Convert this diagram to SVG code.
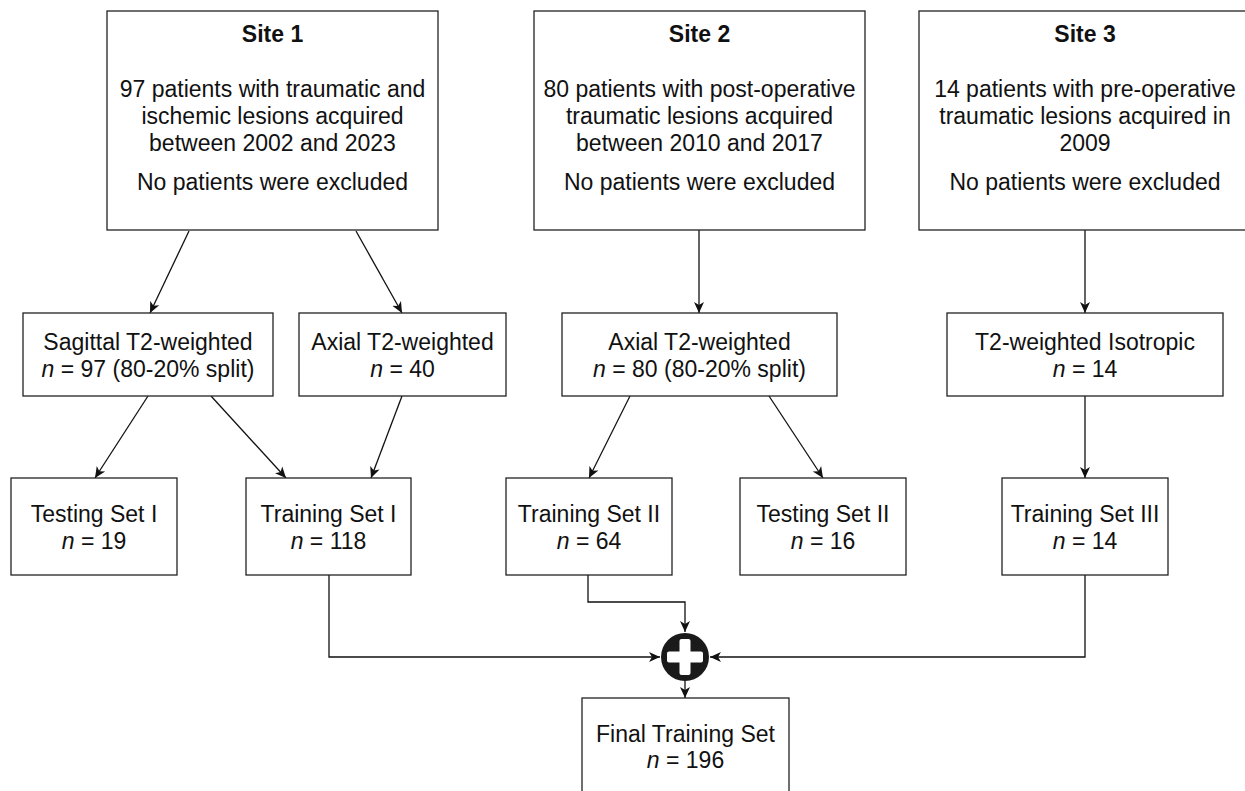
<svg xmlns="http://www.w3.org/2000/svg" width="1245" height="791" viewBox="0 0 1245 791">
<style>
.box{fill:#fff;stroke:#222;stroke-width:1.3}
text{font-family:"Liberation Sans",Arial,Helvetica,sans-serif;font-size:23px;fill:#111;text-anchor:middle}
.b{font-weight:bold}
.i{font-style:italic}
.c{fill:none;stroke:#111;stroke-width:1.3}
</style>
<defs>
<marker id="arr" markerUnits="userSpaceOnUse" markerWidth="12" markerHeight="12" refX="11" refY="6" orient="auto">
<path d="M0,1 L11,6 L0,11 L3,6 z" fill="#111"/>
</marker>
</defs>
<rect width="1245" height="791" fill="#fff"/>
<g id="connectors">
<line class="c" x1="189" y1="231" x2="150" y2="313" marker-end="url(#arr)"/>
<line class="c" x1="356" y1="231" x2="402" y2="313" marker-end="url(#arr)"/>
<line class="c" x1="699" y1="230" x2="699" y2="313" marker-end="url(#arr)"/>
<line class="c" x1="1085" y1="230" x2="1085" y2="313" marker-end="url(#arr)"/>
<line class="c" x1="148" y1="396" x2="95" y2="478" marker-end="url(#arr)"/>
<line class="c" x1="211" y1="396" x2="286" y2="478" marker-end="url(#arr)"/>
<line class="c" x1="402" y1="396" x2="371" y2="478" marker-end="url(#arr)"/>
<line class="c" x1="630" y1="396" x2="589" y2="478" marker-end="url(#arr)"/>
<line class="c" x1="769" y1="396" x2="823" y2="478" marker-end="url(#arr)"/>
<line class="c" x1="1085" y1="396" x2="1085" y2="478" marker-end="url(#arr)"/>
<path class="c" d="M329,575 V657 H660" marker-end="url(#arr)"/>
<path class="c" d="M588,575 V602 H685 V632" marker-end="url(#arr)"/>
<path class="c" d="M1085,575 V657 H710" marker-end="url(#arr)"/>
<line class="c" x1="685" y1="681" x2="685" y2="698" marker-end="url(#arr)"/>
</g>
<g id="site1">
<rect class="box" x="107" y="11" width="331" height="219"/>
<text class="b" x="272.5" y="42">Site 1</text>
<text x="272.5" y="97">97 patients with traumatic and</text>
<text x="272.5" y="124">ischemic lesions acquired</text>
<text x="272.5" y="151">between 2002 and 2023</text>
<text x="272.5" y="190">No patients were excluded</text>
</g>
<g id="site2">
<rect class="box" x="534" y="11" width="331" height="219"/>
<text class="b" x="699.5" y="42">Site 2</text>
<text x="699.5" y="97">80 patients with post-operative</text>
<text x="699.5" y="124">traumatic lesions acquired</text>
<text x="699.5" y="151">between 2010 and 2017</text>
<text x="699.5" y="190">No patients were excluded</text>
</g>
<g id="site3">
<rect class="box" x="919" y="11" width="332" height="219"/>
<text class="b" x="1085" y="42">Site 3</text>
<text x="1085" y="97">14 patients with pre-operative</text>
<text x="1085" y="124">traumatic lesions acquired in</text>
<text x="1085" y="151">2009</text>
<text x="1085" y="190">No patients were excluded</text>
</g>
<g id="sagittal">
<rect class="box" x="23" y="313" width="250" height="83"/>
<text x="148" y="350">Sagittal T2-weighted</text>
<text x="148" y="377"><tspan class="i">n</tspan> = 97 (80-20% split)</text>
</g>
<g id="axial1">
<rect class="box" x="299" y="313" width="207" height="83"/>
<text x="402.5" y="350">Axial T2-weighted</text>
<text x="402.5" y="377"><tspan class="i">n</tspan> = 40</text>
</g>
<g id="axial2">
<rect class="box" x="562" y="313" width="275" height="83"/>
<text x="699.5" y="350">Axial T2-weighted</text>
<text x="699.5" y="377"><tspan class="i">n</tspan> = 80 (80-20% split)</text>
</g>
<g id="isotropic">
<rect class="box" x="947" y="313" width="276" height="83"/>
<text x="1085" y="350">T2-weighted Isotropic</text>
<text x="1085" y="377"><tspan class="i">n</tspan> = 14</text>
</g>
<g id="testing1">
<rect class="box" x="11" y="478" width="166" height="97"/>
<text x="94" y="522">Testing Set I</text>
<text x="94" y="549"><tspan class="i">n</tspan> = 19</text>
</g>
<g id="training1">
<rect class="box" x="246" y="478" width="165" height="97"/>
<text x="328.5" y="522">Training Set I</text>
<text x="328.5" y="549"><tspan class="i">n</tspan> = 118</text>
</g>
<g id="training2">
<rect class="box" x="506" y="478" width="166" height="97"/>
<text x="589" y="522">Training Set II</text>
<text x="589" y="549"><tspan class="i">n</tspan> = 64</text>
</g>
<g id="testing2">
<rect class="box" x="740" y="478" width="166" height="97"/>
<text x="823" y="522">Testing Set II</text>
<text x="823" y="549"><tspan class="i">n</tspan> = 16</text>
</g>
<g id="training3">
<rect class="box" x="1002" y="478" width="166" height="97"/>
<text x="1085" y="522">Training Set III</text>
<text x="1085" y="549"><tspan class="i">n</tspan> = 14</text>
</g>
<g id="plus">
<circle cx="685" cy="657" r="24" fill="#1a1a1a"/>
<rect x="667" y="651.5" width="36" height="11" rx="2" fill="#fff"/>
<rect x="679.5" y="639" width="11" height="36" rx="2" fill="#fff"/>
</g>
<g id="final">
<rect class="box" x="582" y="698" width="207" height="110"/>
<text x="685.5" y="742">Final Training Set</text>
<text x="685.5" y="768"><tspan class="i">n</tspan> = 196</text>
</g>
</svg>
